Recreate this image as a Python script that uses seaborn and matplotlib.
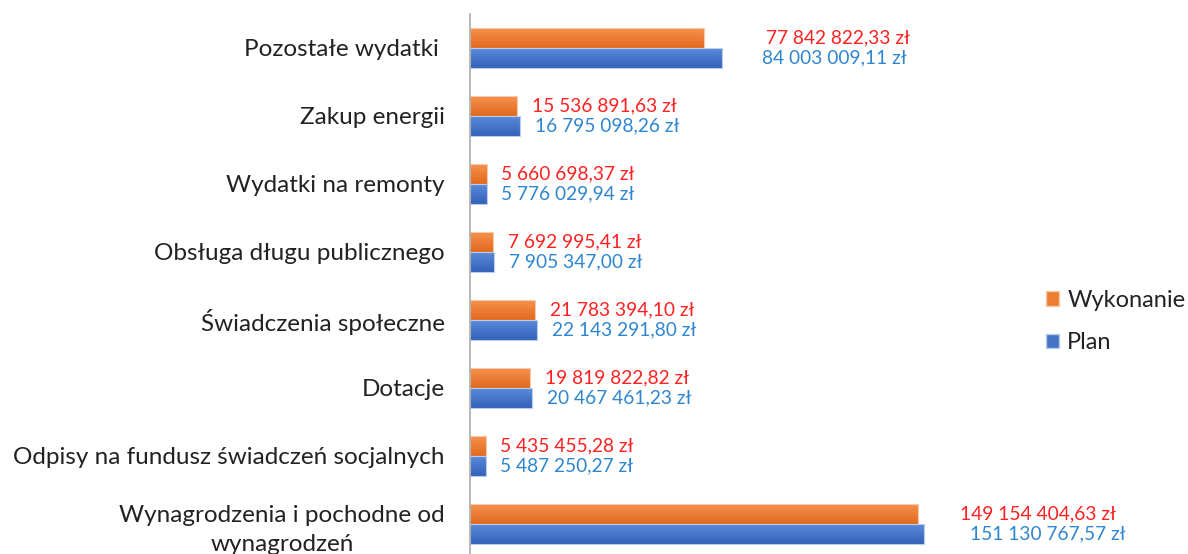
import numpy as np
import pandas as pd
import matplotlib
matplotlib.use('Agg')
import matplotlib.pyplot as plt
from matplotlib.colors import LinearSegmentedColormap
from matplotlib.patches import Patch
import seaborn as sns

# dane: wydatki (plan vs wykonanie)
kategorie = ['Pozostałe wydatki ', 'Zakup energii', 'Wydatki na remonty',
             'Obsługa długu publicznego', 'Świadczenia społeczne', 'Dotacje',
             'Odpisy na fundusz świadczeń socjalnych',
             'Wynagrodzenia i pochodne od\nwynagrodzeń']
wykonanie = [77842822.33, 15536891.63, 5660698.37, 7692995.41,
             21783394.10, 19819822.82, 5435455.28, 149154404.63]
plan = [84003009.11, 16795098.26, 5776029.94, 7905347.00,
        22143291.80, 20467461.23, 5487250.27, 151130767.57]
serie = ['Wykonanie', 'Plan']

df = pd.DataFrame({
    'kategoria': kategorie * 2,
    'kwota': wykonanie + plan,
    'seria': [serie[0]] * len(kategorie) + [serie[1]] * len(kategorie),
})

kolory = {'Wykonanie': '#ED7D31', 'Plan': '#4472C4'}
gradienty = {'Wykonanie': ('#F6914F', '#E2691C'), 'Plan': ('#5A8AD8', '#3462BA')}
obrys = {'Wykonanie': '#F9C9A8', 'Plan': '#B9CDEE'}
kolor_etykiet = {'Wykonanie': '#FF2020', 'Plan': '#2E86D0'}
# przesuniecie etykiet od konca slupka (px), jak w oryginale
przesuniecia = {'Wykonanie': [62, 15, 14, 15, 15, 15, 14, 42],
                'Plan': [40, 15, 14, 15, 15, 15, 14, 46]}

sns.set_style('white')
plt.rcParams['font.family'] = ['Lato', 'DejaVu Sans']

fig = plt.figure(figsize=(11.88, 5.54), dpi=100)
ax = fig.add_axes([470 / 1188, -4 / 554, 541 / 1188, 544 / 554])

sns.barplot(data=df, y='kategoria', x='kwota', hue='seria', hue_order=serie,
            palette=kolory, orient='h', width=0.575, legend=False, ax=ax,
            errorbar=None, saturation=1)

def fmt(v):
    return f'{v:,.2f}'.replace(',', ' ').replace('.', ',') + ' zł'

for cont, s in zip(ax.containers, serie):
    cmap = LinearSegmentedColormap.from_list(s, gradienty[s])
    vals = wykonanie if s == 'Wykonanie' else plan
    for bar, v, off in zip(cont, vals, przesuniecia[s]):
        x0, y0 = bar.get_x(), bar.get_y()
        w, h = bar.get_width(), bar.get_height()
        bar.set_facecolor('none')
        bar.set_edgecolor(obrys[s])
        bar.set_linewidth(0.8)
        im = ax.imshow(np.linspace(0, 1, 50).reshape(-1, 1), cmap=cmap,
                       extent=[x0, x0 + w, y0 + h, y0], origin='upper',
                       aspect='auto', zorder=bar.get_zorder() - 0.1)
        im.set_clip_path(bar)
        ax.annotate(fmt(v), xy=(v, y0 + h / 2), xytext=(off * 0.72, 0),
                    textcoords='offset points', va='center', ha='left',
                    fontsize=13.8, color=kolor_etykiet[s])

ax.set_xlim(0, 180e6)
ax.set_ylim(len(kategorie) - 0.5, -0.5)
ax.set_xlabel('')
ax.set_ylabel('')
ax.set_xticks([])
for sp in ['top', 'right', 'bottom']:
    ax.spines[sp].set_visible(False)
ax.spines['left'].set_color('#A6A6A6')
ax.spines['left'].set_linewidth(1.1)

ax.set_yticks(range(len(kategorie)))
ax.set_yticklabels(kategorie, fontsize=17.5, color='#222222')
for t in ax.get_yticklabels():
    t.set_multialignment('center')
    t.set_linespacing(1.45)
ax.tick_params(axis='y', which='major', length=0, pad=18)
ax.set_yticks(np.arange(-0.5, len(kategorie)), minor=True)
ax.tick_params(axis='y', which='minor', length=6, width=1.1, color='#A6A6A6',
               direction='out')

uchwyty = [Patch(facecolor=kolory[s], edgecolor=obrys[s]) for s in serie]
fig.legend(uchwyty, serie, loc='center left', bbox_to_anchor=(1046 / 1188, 1 - 321.5 / 554),
           frameon=False, fontsize=17, handlelength=0.55, handleheight=0.55,
           handletextpad=0.35, labelspacing=0.9, borderpad=0, borderaxespad=0,
           labelcolor='#222222')

fig.savefig('out.png', dpi=100)
